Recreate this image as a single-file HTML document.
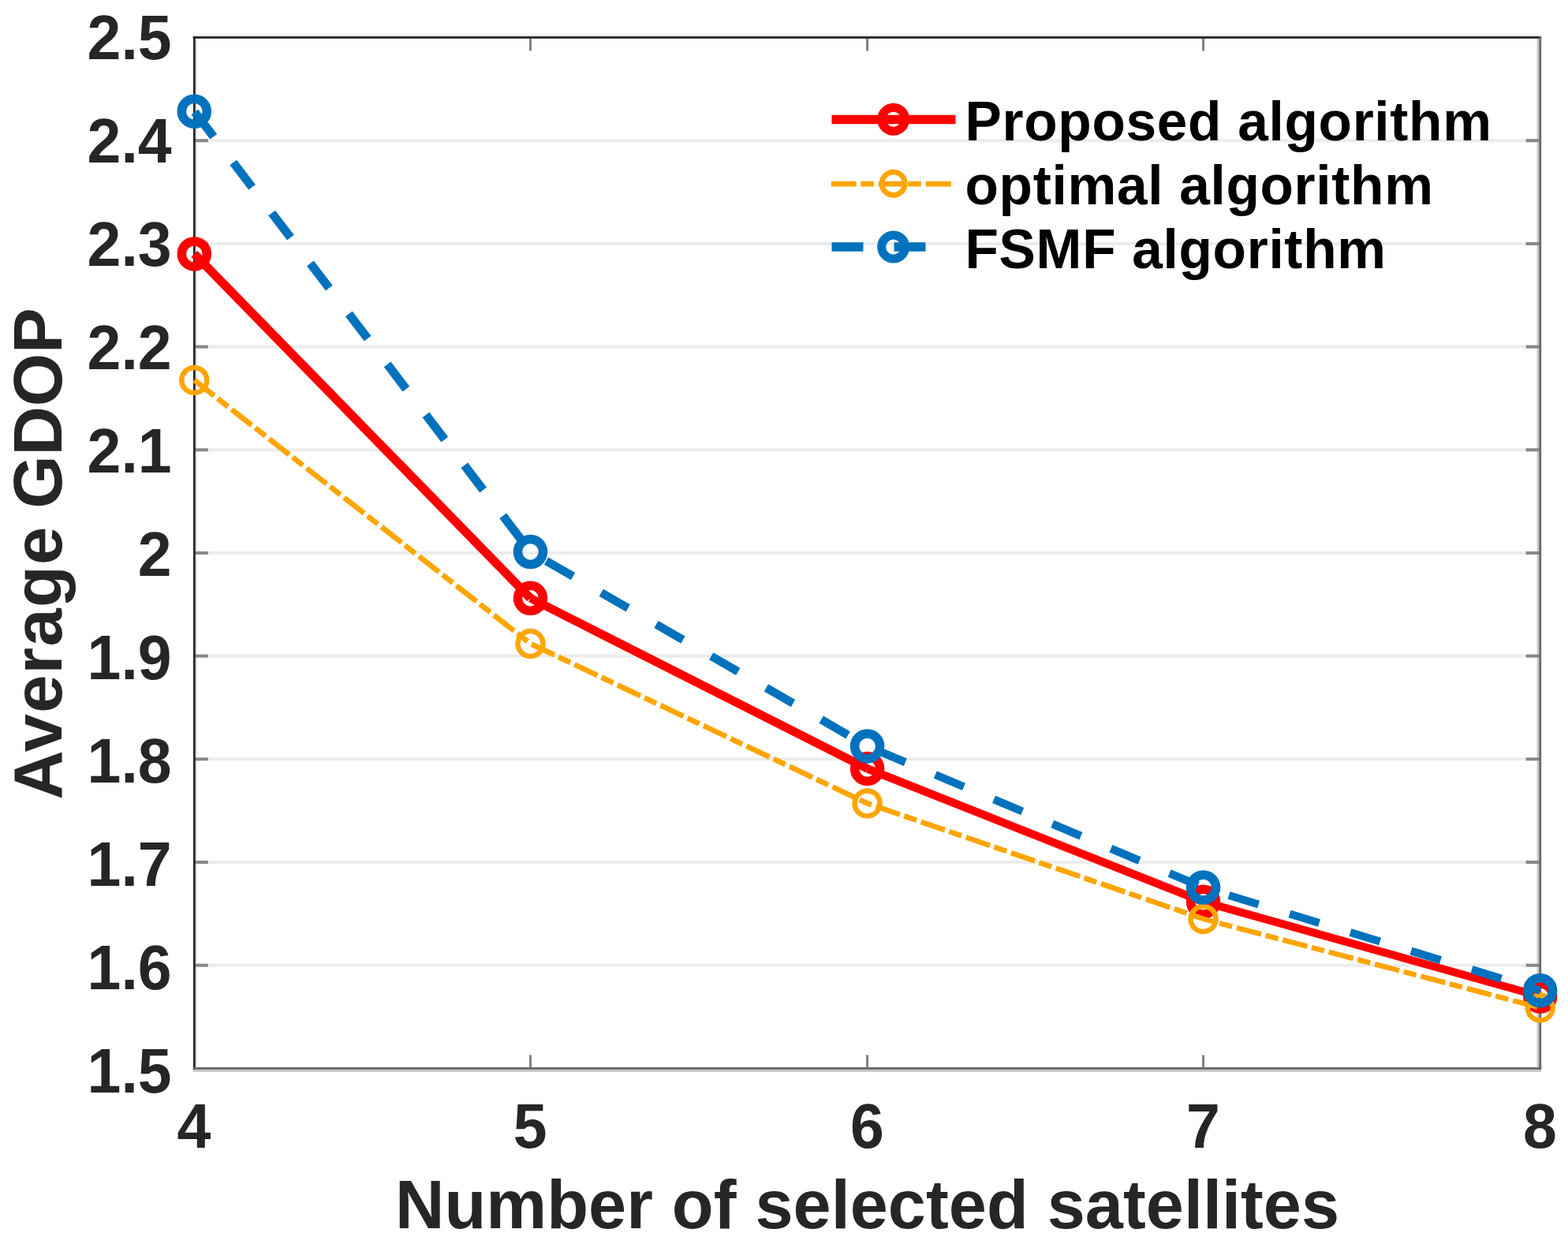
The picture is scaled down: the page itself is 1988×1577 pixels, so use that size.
<!DOCTYPE html>
<html lang="en"><head><meta charset="utf-8"><title>Average GDOP vs number of selected satellites</title>
<style>
html,body{margin:0;padding:0;background:#fff;}
body{width:1988px;height:1577px;overflow:hidden;}
svg{display:block;}
text{font-family:"Liberation Sans",Arial,Helvetica,sans-serif;font-weight:bold;}
.tick{font-size:77px;fill:#262626;}
.axl{font-size:86.5px;fill:#262626;}
.leg{font-size:69.5px;fill:#000;letter-spacing:0.65px;}
</style></head><body>
<svg width="1988" height="1577" viewBox="0 0 1988 1577">
<rect x="0" y="0" width="1988" height="1577" fill="#ffffff"/>
<g id="box-halo">
<rect x="244.7" y="43.6" width="1709.5" height="2.6" fill="#ebebeb"/>
<rect x="247.8" y="48.9" width="2.3" height="1304" fill="#e4e4e4"/>
<rect x="1948.6" y="48.9" width="2.8" height="1304" fill="#c8c8c8"/>
<rect x="244.7" y="1355.8" width="1709.5" height="3.1" fill="#c8c8c8"/>
</g>
<g id="grid" stroke="#ececec" stroke-width="4" fill="none">
<line x1="248.3" y1="178.2" x2="1950.7" y2="178.2"/>
<line x1="248.3" y1="308.9" x2="1950.7" y2="308.9"/>
<line x1="248.3" y1="439.6" x2="1950.7" y2="439.6"/>
<line x1="248.3" y1="570.3" x2="1950.7" y2="570.3"/>
<line x1="248.3" y1="701.0" x2="1950.7" y2="701.0"/>
<line x1="248.3" y1="831.6" x2="1950.7" y2="831.6"/>
<line x1="248.3" y1="962.3" x2="1950.7" y2="962.3"/>
<line x1="248.3" y1="1093.0" x2="1950.7" y2="1093.0"/>
<line x1="248.3" y1="1223.7" x2="1950.7" y2="1223.7"/>
</g>
<g id="ticks" fill="none">
<line x1="246.3" y1="178.2" x2="263.8" y2="178.2" stroke="#888888" stroke-width="4"/>
<line x1="1934.7" y1="178.2" x2="1952.7" y2="178.2" stroke="#888888" stroke-width="4"/>
<line x1="246.3" y1="308.9" x2="263.8" y2="308.9" stroke="#888888" stroke-width="4"/>
<line x1="1934.7" y1="308.9" x2="1952.7" y2="308.9" stroke="#888888" stroke-width="4"/>
<line x1="246.3" y1="439.6" x2="263.8" y2="439.6" stroke="#888888" stroke-width="4"/>
<line x1="1934.7" y1="439.6" x2="1952.7" y2="439.6" stroke="#888888" stroke-width="4"/>
<line x1="246.3" y1="570.3" x2="263.8" y2="570.3" stroke="#888888" stroke-width="4"/>
<line x1="1934.7" y1="570.3" x2="1952.7" y2="570.3" stroke="#888888" stroke-width="4"/>
<line x1="246.3" y1="701.0" x2="263.8" y2="701.0" stroke="#888888" stroke-width="4"/>
<line x1="1934.7" y1="701.0" x2="1952.7" y2="701.0" stroke="#888888" stroke-width="4"/>
<line x1="246.3" y1="831.6" x2="263.8" y2="831.6" stroke="#888888" stroke-width="4"/>
<line x1="1934.7" y1="831.6" x2="1952.7" y2="831.6" stroke="#888888" stroke-width="4"/>
<line x1="246.3" y1="962.3" x2="263.8" y2="962.3" stroke="#888888" stroke-width="4"/>
<line x1="1934.7" y1="962.3" x2="1952.7" y2="962.3" stroke="#888888" stroke-width="4"/>
<line x1="246.3" y1="1093.0" x2="263.8" y2="1093.0" stroke="#888888" stroke-width="4"/>
<line x1="1934.7" y1="1093.0" x2="1952.7" y2="1093.0" stroke="#888888" stroke-width="4"/>
<line x1="246.3" y1="1223.7" x2="263.8" y2="1223.7" stroke="#888888" stroke-width="4"/>
<line x1="1934.7" y1="1223.7" x2="1952.7" y2="1223.7" stroke="#888888" stroke-width="4"/>
<line x1="672.5" y1="48.5" x2="672.5" y2="64.5" stroke="#7a7a7a" stroke-width="2.8"/>
<line x1="672.5" y1="1337.4" x2="672.5" y2="1353.4" stroke="#7a7a7a" stroke-width="2.8"/>
<line x1="1099.6" y1="48.5" x2="1099.6" y2="64.5" stroke="#7a7a7a" stroke-width="2.8"/>
<line x1="1099.6" y1="1337.4" x2="1099.6" y2="1353.4" stroke="#7a7a7a" stroke-width="2.8"/>
<line x1="1525.6" y1="48.5" x2="1525.6" y2="64.5" stroke="#7a7a7a" stroke-width="2.8"/>
<line x1="1525.6" y1="1337.4" x2="1525.6" y2="1353.4" stroke="#7a7a7a" stroke-width="2.8"/>
</g>
<g id="box">
<rect x="244.7" y="46.1" width="1709.5" height="2.8" fill="#262626"/>
<rect x="244.9" y="46.1" width="2.9" height="1309.7" fill="#2a2a2a"/>
<rect x="1951.3" y="46.1" width="2.9" height="1309.7" fill="#6a6a6a"/>
<rect x="244.7" y="1353" width="1709.5" height="2.8" fill="#666666"/>
</g>
<g id="proposed" fill="none" stroke="#ff0000">
<line x1="246.3" y1="321.9" x2="672.5" y2="758.3" stroke-width="11.2"/>
<line x1="672.5" y1="758.3" x2="1099.6" y2="974.4" stroke-width="10.8"/>
<line x1="1099.6" y1="974.4" x2="1525.6" y2="1143.2" stroke-width="10.3"/>
<line x1="1525.6" y1="1143.2" x2="1952.7" y2="1263.0" stroke-width="10.1"/>
<circle cx="246.3" cy="321.9" r="16" stroke-width="11.5"/>
<circle cx="672.5" cy="758.3" r="16" stroke-width="11.5"/>
<circle cx="1099.6" cy="974.4" r="16" stroke-width="11.5"/>
<circle cx="1525.6" cy="1143.2" r="16" stroke-width="11.5"/>
<circle cx="1952.7" cy="1263.0" r="16" stroke-width="11.5"/>
</g>
<g id="optimal" fill="none" stroke="#ffa500">
<line x1="246.3" y1="481.9" x2="672.5" y2="816.0" stroke-width="6.8" stroke-dasharray="32.2 5.6 16.6 5.94" stroke-dashoffset="0.00"/>
<line x1="672.5" y1="816.0" x2="1099.6" y2="1018.4" stroke-width="6.8" stroke-dasharray="32.2 5.6 16.6 5.94" stroke-dashoffset="541.54"/>
<line x1="1099.6" y1="1018.4" x2="1525.6" y2="1164.9" stroke-width="6.7" stroke-dasharray="32.2 5.6 16.6 5.94" stroke-dashoffset="1014.17"/>
<line x1="1525.6" y1="1164.9" x2="1952.7" y2="1277.5" stroke-width="6.6" stroke-dasharray="32.2 5.6 16.6 5.94" stroke-dashoffset="1464.66"/>
<circle cx="246.3" cy="481.9" r="16" stroke-width="6.5"/>
<circle cx="672.5" cy="816.0" r="16" stroke-width="6.5"/>
<circle cx="1099.6" cy="1018.4" r="16" stroke-width="6.5"/>
<circle cx="1525.6" cy="1164.9" r="16" stroke-width="6.5"/>
<circle cx="1952.7" cy="1277.5" r="16" stroke-width="6.5"/>
</g>
<g id="fsmf" fill="none" stroke="#0072bd">
<line x1="246.3" y1="141.2" x2="672.5" y2="699.5" stroke-width="11.0" stroke-dasharray="39.3 41.2" stroke-dashoffset="-1.00"/>
<line x1="672.5" y1="699.5" x2="1099.6" y2="945.9" stroke-width="10.6" stroke-dasharray="39.3 41.2" stroke-dashoffset="701.39"/>
<line x1="1099.6" y1="945.9" x2="1525.6" y2="1125.0" stroke-width="10.2" stroke-dasharray="39.3 41.2" stroke-dashoffset="1194.46"/>
<line x1="1525.6" y1="1125.0" x2="1952.7" y2="1255.7" stroke-width="10.0" stroke-dasharray="39.3 41.2" stroke-dashoffset="1656.58"/>
<circle cx="246.3" cy="141.2" r="16" stroke-width="11.5"/>
<circle cx="672.5" cy="699.5" r="16" stroke-width="11.5"/>
<circle cx="1099.6" cy="945.9" r="16" stroke-width="11.5"/>
<circle cx="1525.6" cy="1125.0" r="16" stroke-width="11.5"/>
<circle cx="1952.7" cy="1255.7" r="16" stroke-width="11.5"/>
</g>
<g id="legend" fill="none">
<line x1="1054.5" y1="151.6" x2="1211.5" y2="151.6" stroke="#ff0000" stroke-width="11.5"/>
<circle cx="1132.7" cy="151.3" r="15" stroke="#ff0000" stroke-width="11"/>
<line x1="1053.8" y1="233.1" x2="1211.5" y2="233.1" stroke="#ffa500" stroke-width="6.8" stroke-dasharray="32 5.5 16.5 6"/>
<circle cx="1132.7" cy="232.7" r="14.6" stroke="#ffa500" stroke-width="6.8"/>
<line x1="1054.5" y1="313.1" x2="1211.5" y2="313.1" stroke="#0072bd" stroke-width="11.5" stroke-dasharray="40 39"/>
<circle cx="1132.7" cy="313.1" r="15" stroke="#0072bd" stroke-width="11"/>
</g>
<g id="legend-text">
<text class="leg" x="1223.5" y="178">Proposed algorithm</text>
<text class="leg" x="1223.5" y="259.3">optimal algorithm</text>
<text class="leg" x="1223.5" y="339.8">FSMF algorithm</text>
</g>
<g id="ylabels" text-anchor="end">
<text class="tick" transform="translate(217.6 74.7) scale(1 1.04)">2.5</text>
<text class="tick" transform="translate(217.6 205.7) scale(1 1.04)">2.4</text>
<text class="tick" transform="translate(217.6 336.7) scale(1 1.04)">2.3</text>
<text class="tick" transform="translate(217.6 467.7) scale(1 1.04)">2.2</text>
<text class="tick" transform="translate(217.6 598.6) scale(1 1.04)">2.1</text>
<text class="tick" transform="translate(217.6 729.6) scale(1 1.04)">2</text>
<text class="tick" transform="translate(217.6 860.6) scale(1 1.04)">1.9</text>
<text class="tick" transform="translate(217.6 991.6) scale(1 1.04)">1.8</text>
<text class="tick" transform="translate(217.6 1122.6) scale(1 1.04)">1.7</text>
<text class="tick" transform="translate(217.6 1253.6) scale(1 1.04)">1.6</text>
<text class="tick" transform="translate(217.6 1384.6) scale(1 1.04)">1.5</text>
</g>
<g id="xlabels" text-anchor="middle">
<text class="tick" transform="translate(246.0 1455.2) scale(1 1.04)">4</text>
<text class="tick" transform="translate(672.2 1455.2) scale(1 1.04)">5</text>
<text class="tick" transform="translate(1099.3 1455.2) scale(1 1.04)">6</text>
<text class="tick" transform="translate(1525.3 1455.2) scale(1 1.04)">7</text>
<text class="tick" transform="translate(1952.4 1455.2) scale(1 1.04)">8</text>
</g>
<text class="axl" text-anchor="middle" x="1099.5" y="1556.5">Number of selected satellites</text>
<text class="axl" transform="translate(77.5 702.5) rotate(-90)"><tspan x="-311.3" letter-spacing="1.3">Average</tspan><tspan x="57.8" letter-spacing="-0.15">GDOP</tspan></text>
</svg>
</body></html>
